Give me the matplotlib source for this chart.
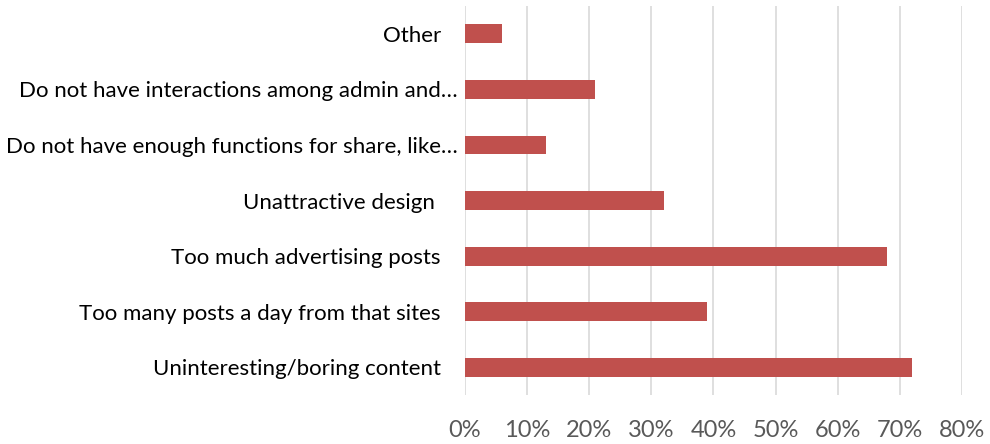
import matplotlib
matplotlib.use("Agg")
import matplotlib.pyplot as plt
from matplotlib.ticker import FuncFormatter

categories = [
    "Uninteresting/boring content   ",
    "Too many posts a day from that sites   ",
    "Too much advertising posts   ",
    "Unattractive design    ",
    "Do not have enough functions for share, like\u2026",
    "Do not have interactions among admin and\u2026",
    "Other   ",
]
values = [72, 39, 68, 32, 13, 21, 6]
xticks = [0, 10, 20, 30, 40, 50, 60, 70, 80]

plt.rcParams['font.family'] = ['Lato', 'DejaVu Sans']

fig = plt.figure(figsize=(9.9, 4.44), dpi=100)
ax = fig.add_axes([0.4697, 0.110, 0.5020, 0.8765])

y = list(range(len(categories)))
ax.barh(y, values, height=0.34, color="#C0504D", zorder=3)
ax.set_ylim(-0.5, len(categories) - 0.5)
ax.set_xlim(0, 80)
ax.set_xticks(xticks)
ax.xaxis.set_major_formatter(FuncFormatter(lambda v, p: f"{int(v)}%"))
ax.set_yticks(y)
ax.set_yticklabels(categories, fontsize=16, color="#000000")
ax.tick_params(axis='y', length=0, pad=5)
ax.tick_params(axis='x', length=0, pad=18, labelsize=17, labelcolor="#595959")
ax.grid(axis='x', color="#D9D9D9", linewidth=1.2, zorder=0)
for s in ax.spines.values():
    s.set_visible(False)

fig.savefig("out.png", dpi=100)
